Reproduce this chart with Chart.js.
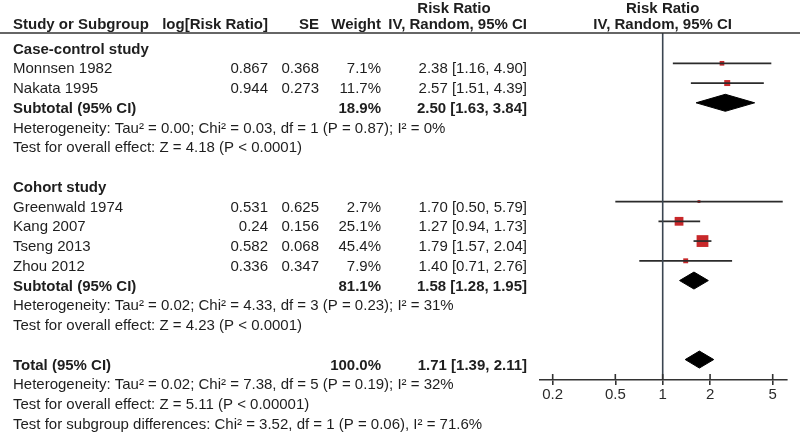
<!DOCTYPE html>
<html>
<head>
<meta charset="utf-8">
<title>Forest plot</title>
<script src="https://cdn.jsdelivr.net/npm/chart.js@4.4.1/dist/chart.umd.min.js"></script>
<style>
  body { margin: 0; background: #fff; }
  #wrap { width: 800px; height: 432px; position: relative; }
</style>
</head>
<body>
<div id="wrap"><canvas id="forest"></canvas></div>
<script>
// studies
const studyNames = ['Monnsen 1982', 'Nakata 1995', 'Greenwald 1974', 'Kang 2007', 'Tseng 2013', 'Zhou 2012'];
const studyGroup = [0, 0, 1, 1, 1, 1];
const logRR = ['0.867', '0.944', '0.531', '0.24', '0.582', '0.336'];
const seValues = ['0.368', '0.273', '0.625', '0.156', '0.068', '0.347'];
const weights = [7.1, 11.7, 2.7, 25.1, 45.4, 7.9];
const riskRatio = [2.38, 2.57, 1.70, 1.27, 1.79, 1.40];
const ciLow = [1.16, 1.51, 0.50, 0.94, 1.57, 0.71];
const ciHigh = [4.90, 4.39, 5.79, 1.73, 2.04, 2.76];

// subgroups
const groupNames = ['Case-control study', 'Cohort study'];
const groupWeight = [18.9, 81.1];
const groupRR = [2.50, 1.58];
const groupLow = [1.63, 1.28];
const groupHigh = [3.84, 1.95];
const groupHet = [
  'Heterogeneity: Tau\u00b2 = 0.00; Chi\u00b2 = 0.03, df = 1 (P = 0.87); I\u00b2 = 0%',
  'Heterogeneity: Tau\u00b2 = 0.02; Chi\u00b2 = 4.33, df = 3 (P = 0.23); I\u00b2 = 31%'
];
const groupTest = [
  'Test for overall effect: Z = 4.18 (P < 0.0001)',
  'Test for overall effect: Z = 4.23 (P < 0.0001)'
];

// overall
const totalWeight = 100.0;
const totalRR = 1.71;
const totalLow = 1.39;
const totalHigh = 2.11;
const totalNotes = [
  'Heterogeneity: Tau\u00b2 = 0.02; Chi\u00b2 = 7.38, df = 5 (P = 0.19); I\u00b2 = 32%',
  'Test for overall effect: Z = 5.11 (P < 0.00001)',
  'Test for subgroup differences: Chi\u00b2 = 3.52, df = 1 (P = 0.06), I\u00b2 = 71.6%'
];

const xTicks = [0.2, 0.5, 1, 2, 5];

// layout
const FONT = '"Liberation Sans", Arial, sans-serif';
const TEXT = '#1e1e1e';
const Y_MIN = 0.466, Y_MAX = 18.035;
const DIAMOND_H = 0.43;
const COL = { name: 13, log: 268, se: 319, weight: 381, ci: 527, rrHead: 454 };

Chart.defaults.font.family = FONT;

// lay the rows out one after another
const rows = [];
let r = 1;
groupNames.forEach((g, gi) => {
  rows.push({ kind: 'group', row: r++, text: g });
  studyNames.forEach((s, i) => {
    if (studyGroup[i] === gi) rows.push({ kind: 'study', row: r++, i: i });
  });
  rows.push({ kind: 'sub', row: r++, gi: gi });
  rows.push({ kind: 'note', row: r++, text: groupHet[gi] });
  rows.push({ kind: 'note', row: r++, text: groupTest[gi] });
  r++;
});
rows.push({ kind: 'total', row: r++ });
totalNotes.forEach(t => rows.push({ kind: 'note', row: r++, text: t }));

const fmtCI = (m, lo, hi) => m.toFixed(2) + ' [' + lo.toFixed(2) + ', ' + hi.toFixed(2) + ']';

const datasets = [];
datasets.push({
  type: 'line',
  data: [{ x: 1, y: Y_MIN }, { x: 1, y: Y_MAX }],
  borderColor: '#3a4550', borderWidth: 1.6, pointRadius: 0
});

const studyRows = rows.filter(d => d.kind === 'study');
studyRows.forEach(d => {
  datasets.push({
    type: 'line',
    data: [{ x: ciLow[d.i], y: d.row }, { x: ciHigh[d.i], y: d.row }],
    borderColor: '#2b2b2b', borderWidth: 1.7, pointRadius: 0
  });
});

datasets.push({
  type: 'scatter',
  data: studyRows.map(d => ({ x: riskRatio[d.i], y: d.row })),
  pointStyle: 'rect',
  pointRadius: studyRows.map(d => 1.75 * Math.sqrt(weights[d.i]) / Math.SQRT2),
  pointBorderWidth: 0,
  backgroundColor: '#c8282a'
});

function diamond(m, lo, hi, row) {
  return {
    type: 'line',
    data: [
      { x: lo, y: row }, { x: m, y: row - DIAMOND_H },
      { x: hi, y: row }, { x: m, y: row + DIAMOND_H }, { x: lo, y: row }
    ],
    borderColor: '#000', backgroundColor: '#000', borderWidth: 1,
    pointRadius: 0, fill: 'shape', tension: 0
  };
}
rows.forEach(d => {
  if (d.kind === 'sub') datasets.push(diamond(groupRR[d.gi], groupLow[d.gi], groupHigh[d.gi], d.row));
  if (d.kind === 'total') datasets.push(diamond(totalRR, totalLow, totalHigh, d.row));
});

const forestText = {
  id: 'forestText',
  afterDraw(chart) {
    const { ctx, chartArea, scales: { x, y } } = chart;
    const top = chartArea.top;
    const bottom = chartArea.bottom;
    ctx.save();

    // header rule
    ctx.strokeStyle = '#333';
    ctx.lineWidth = 1.6;
    ctx.beginPath();
    ctx.moveTo(0, top);
    ctx.lineTo(chart.width, top);
    ctx.stroke();

    // upper half of the axis ticks
    ctx.beginPath();
    x.ticks.forEach(t => {
      const px = x.getPixelForValue(t.value);
      ctx.moveTo(px, bottom - 6);
      ctx.lineTo(px, bottom);
    });
    ctx.stroke();

    const put = (txt, px, py, align, bold) => {
      ctx.font = (bold ? 'bold ' : '') + '15px ' + FONT;
      ctx.textAlign = align;
      ctx.fillText(txt, px, py);
    };
    ctx.fillStyle = TEXT;
    ctx.textBaseline = 'alphabetic';

    // header
    const h1 = top - 20, h2 = top - 4.5;
    const nullX = x.getPixelForValue(1);
    put('Study or Subgroup', COL.name, h2, 'left', true);
    put('log[Risk Ratio]', COL.log, h2, 'right', true);
    put('SE', COL.se, h2, 'right', true);
    put('Weight', COL.weight, h2, 'right', true);
    put('Risk Ratio', COL.rrHead, h1, 'center', true);
    put('IV, Random, 95% CI', COL.ci, h2, 'right', true);
    put('Risk Ratio', nullX, h1, 'center', true);
    put('IV, Random, 95% CI', nullX, h2, 'center', true);

    rows.forEach(d => {
      const py = y.getPixelForValue(d.row) + 10;
      if (d.kind === 'group') put(d.text, COL.name, py, 'left', true);
      if (d.kind === 'note') put(d.text, COL.name, py, 'left', false);
      if (d.kind === 'study') {
        const i = d.i;
        put(studyNames[i], COL.name, py, 'left', false);
        put(logRR[i], COL.log, py, 'right', false);
        put(seValues[i], COL.se, py, 'right', false);
        put(weights[i].toFixed(1) + '%', COL.weight, py, 'right', false);
        put(fmtCI(riskRatio[i], ciLow[i], ciHigh[i]), COL.ci, py, 'right', false);
      }
      if (d.kind === 'sub') {
        const g = d.gi;
        put('Subtotal (95% CI)', COL.name, py, 'left', true);
        put(groupWeight[g].toFixed(1) + '%', COL.weight, py, 'right', true);
        put(fmtCI(groupRR[g], groupLow[g], groupHigh[g]), COL.ci, py, 'right', true);
      }
      if (d.kind === 'total') {
        put('Total (95% CI)', COL.name, py, 'left', true);
        put(totalWeight.toFixed(1) + '%', COL.weight, py, 'right', true);
        put(fmtCI(totalRR, totalLow, totalHigh), COL.ci, py, 'right', true);
      }
    });
    ctx.restore();
  }
};

new Chart(document.getElementById('forest'), {
  type: 'scatter',
  data: { datasets: datasets },
  options: {
    responsive: true,
    maintainAspectRatio: false,
    animation: false,
    layout: { padding: { left: 540, right: 13, top: 33, bottom: 22 } },
    plugins: { legend: { display: false }, tooltip: { enabled: false } },
    scales: {
      x: {
        type: 'logarithmic',
        min: 0.1661,
        max: 6.163,
        bounds: 'data',
        afterBuildTicks: axis => { axis.ticks = xTicks.map(v => ({ value: v })); },
        afterFit: axis => { axis.height = 30; },
        border: { display: true, color: '#333', width: 1.6 },
        grid: { drawOnChartArea: false, tickLength: 5, color: '#333', lineWidth: 1.6 },
        ticks: {
          autoSkip: false, maxRotation: 0, padding: 1, color: '#2a2a2a',
          font: { size: 15 },
          callback: v => String(v)
        }
      },
      y: {
        type: 'linear',
        reverse: true,
        min: Y_MIN,
        max: Y_MAX,
        display: false
      }
    }
  },
  plugins: [forestText]
});
</script>
</body>
</html>
